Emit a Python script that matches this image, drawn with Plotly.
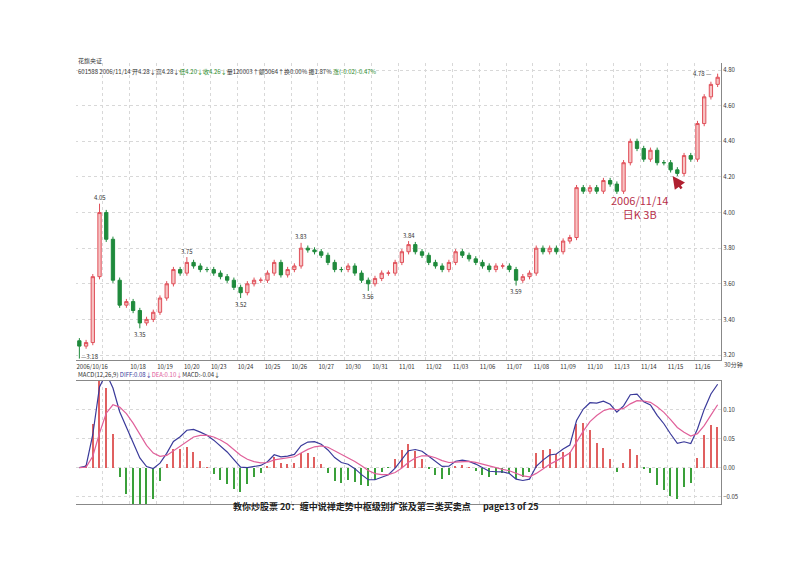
import plotly.graph_objects as go
import pandas as pd

closes = [3.25,3.27,3.64,4.00,3.85,3.62,3.48,3.50,3.45,3.38,3.40,3.44,3.52,3.60,3.68,3.66,
          3.72,3.70,3.68,3.68,3.66,3.64,3.62,3.58,3.55,3.60,3.62,3.62,3.66,3.72,3.65,3.68,
          3.70,3.80,3.79,3.78,3.76,3.72,3.68,3.68,3.70,3.66,3.62,3.60,3.63,3.66,3.66,3.72,
          3.78,3.82,3.78,3.76,3.72,3.70,3.68,3.72,3.78,3.76,3.74,3.72,3.70,3.68,3.70,3.70,
          3.68,3.62,3.64,3.66,3.80,3.78,3.80,3.78,3.84,3.86,4.14,4.12,4.14,4.12,4.18,4.16,
          4.12,4.28,4.40,4.36,4.30,4.35,4.28,4.28,4.24,4.22,4.32,4.30,4.50,4.65,4.72,4.76]
first_open = 3.28
extreme_highs = {3: 4.05, 33: 3.83, 49: 3.84, 16: 3.75, 95: 4.78}
extreme_lows = {0: 3.18, 9: 3.35, 24: 3.52, 43: 3.56, 65: 3.59}
wick = 0.015
days = ["2006/10/16","10/17","10/18","10/19","10/20","10/23","10/24","10/25","10/26","10/27",
        "10/30","10/31","11/01","11/02","11/03","11/06","11/07","11/08","11/09","11/10",
        "11/13","11/14","11/15","11/16"]
bars_per_day = 4

opens = [first_open] + closes[:-1]
highs = [extreme_highs.get(i, max(o, c) + wick) for i, (o, c) in enumerate(zip(opens, closes))]
lows = [extreme_lows.get(i, min(o, c) - wick) for i, (o, c) in enumerate(zip(opens, closes))]
x = list(range(len(closes)))

s = pd.Series(closes)
diff = s.ewm(span=6, adjust=False).mean() - s.ewm(span=13, adjust=False).mean()
dea = diff.ewm(span=5, adjust=False).mean()
hist = 2 * (diff - dea)

fig = go.Figure()
fig.add_trace(go.Candlestick(x=x, open=opens, high=highs, low=lows, close=closes,
    increasing=dict(line=dict(color="#e0505a", width=1), fillcolor="#f7c4c4"),
    decreasing=dict(line=dict(color="#1f8a3c", width=1), fillcolor="#1f8a3c"),
    whiskerwidth=0, showlegend=False, xaxis="x", yaxis="y"))
fig.add_trace(go.Bar(x=x, y=list(hist), width=0.2,
    marker_color=["#e06060" if v >= 0 else "#3aa03a" for v in hist], marker_line_width=0,
    showlegend=False, xaxis="x2", yaxis="y2"))
fig.add_trace(go.Scatter(x=x, y=list(diff), mode="lines", line=dict(color="#3a3a9a", width=1.2),
    showlegend=False, xaxis="x2", yaxis="y2"))
fig.add_trace(go.Scatter(x=x, y=list(dea), mode="lines", line=dict(color="#e0609a", width=1.2),
    showlegend=False, xaxis="x2", yaxis="y2"))

def py(p):
    return (496 - p) / 446

tickvals = [i * bars_per_day - 0.5 for i in range(len(days))]
ticktext = ["" if d == "10/17" else d for d in days]
grid = dict(showgrid=True, gridcolor="#d8d8d8", griddash="dot", gridwidth=1)
xr = [-0.5, len(closes) - 0.5]
fig.update_layout(
    width=800, height=566, paper_bgcolor="white", plot_bgcolor="white",
    margin=dict(l=68, r=87, t=50, b=70), font=dict(family="Noto Sans CJK SC", size=6, color="#333"),
    xaxis=dict(domain=[0, 1], range=xr, anchor="y", tickvals=tickvals, ticktext=ticktext,
               rangeslider=dict(visible=False), ticks="", ticklabelstandoff=1, tickfont=dict(size=6), **grid,
               showline=True, linecolor="#888", ticklabelposition="outside right"),
    yaxis=dict(domain=[py(352), py(55)], range=[3.172, 4.84], side="right", dtick=0.2,
               tickformat=".2f", tickfont=dict(size=6), **grid, showline=True, linecolor="#888", zeroline=False),
    xaxis2=dict(domain=[0, 1], range=xr, anchor="y2", tickvals=tickvals, showticklabels=False, **grid,
                showline=True, linecolor="#888", mirror=True),
    yaxis2=dict(domain=[0, py(373)], range=[-0.063, 0.15], side="right", tickvals=[-0.05, 0, 0.05, 0.10],
                tickformat=".2f", tickfont=dict(size=6), **grid, showline=True, linecolor="#888", zeroline=False),
    bargap=0,
)
ann = []
labels = [(3, 4.05, "4.05", "top"), (16, 3.75, "3.75", "top"), (33, 3.83, "3.83", "top"),
          (49, 3.84, "3.84", "top"), (95, 4.78, "4.78 —", "tl"),
          (0, 3.18, "—3.18", "bl"), (9, 3.35, "3.35", "bottom"), (24, 3.52, "3.52", "bottom"),
          (43, 3.56, "3.56", "bottom"), (65, 3.59, "3.59", "bottom")]
for i, v, t, pos in labels:
    a = dict(x=i, y=v, text=t, showarrow=False, xref="x", yref="y",
             yshift=6 if pos in ("top", "tl") else -6, font=dict(size=6, color="#333"))
    if pos == "tl":
        a.update(xanchor="right", xshift=-4, yshift=0)
    if pos == "bl":
        a.update(xanchor="left", xshift=0, yshift=2)
    ann.append(a)
ann.append(dict(x=88.3, y=4.205, xref="x", yref="y", ax=10, ay=14, showarrow=True, arrowhead=2,
                arrowsize=1, arrowwidth=2.5, arrowcolor="#b02030", text=""))
ann.append(dict(x=(662-68)/645, y=py(199), xref="paper", yref="paper", text="2006/11/14<br>日K 3B",
                showarrow=False, font=dict(size=11, color="#b8304a")))
ann.append(dict(x=0, y=py(46), xref="paper", yref="paper", xanchor="left", showarrow=False,
                text="花旗央证", font=dict(size=6)))
ann.append(dict(x=0, y=py(57), xref="paper", yref="paper", xanchor="left", showarrow=False,
                text="601588 2006/11/14 开4.28↓高4.28↓<span style='color:#2a8a2a'>低4.20↓收4.26↓</span>量120003↑额5064↑换0.00% 振1.87% <span style='color:#2a8a2a'>涨(-0.02)-0.47%</span>",
                font=dict(size=6)))
ann.append(dict(x=0, y=py(373), xref="paper", yref="paper", xanchor="left", yanchor="bottom",
                showarrow=False, font=dict(size=6),
                text="MACD(12,26,9) <span style='color:#3a3a9a'>DIFF:0.08↓</span><span style='color:#e0609a'>DEA:0.10↓</span>MACD:-0.04↓"))
ann.append(dict(x=1.002, y=py(363), xref="paper", yref="paper", xanchor="left", showarrow=False,
                text="30分钟", font=dict(size=6)))
ann.append(dict(x=0.48, y=py(507), xref="paper", yref="paper", showarrow=False,
                text="<b>教你炒股票 20：缠中说禅走势中枢级别扩张及第三类买卖点      page13 of 25</b>",
                font=dict(size=9, color="#222")))
fig.update_layout(annotations=ann)
fig.write_html("out.html")
